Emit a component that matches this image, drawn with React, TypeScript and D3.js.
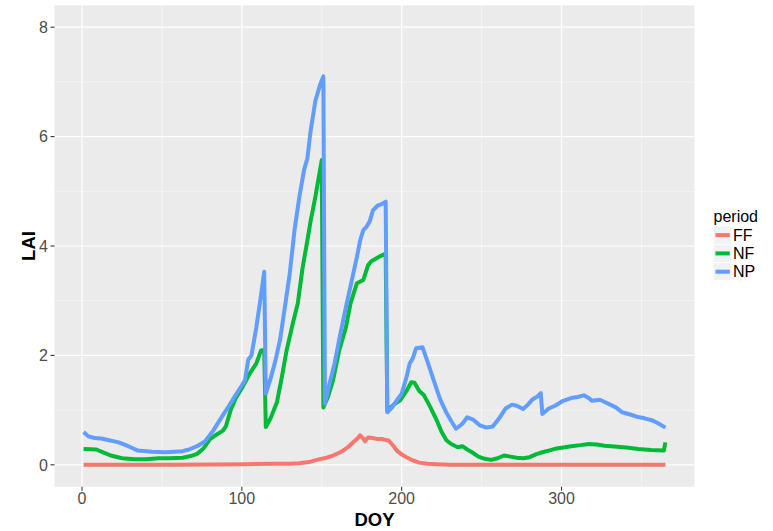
import React from "react";
import * as d3 from "d3";

// ---- data (DOY, LAI) ----
const FF: [number, number][] = [
  [1, 0], [60, 0], [100, 0.01], [120, 0.02], [130, 0.02], [136, 0.03], [142, 0.05], [148, 0.1],
  [153, 0.13], [157, 0.17], [161, 0.22], [164, 0.27], [167, 0.34], [170, 0.42], [173, 0.5],
  [174, 0.54], [176, 0.48], [177, 0.43], [179, 0.5], [182, 0.49], [185, 0.47], [188, 0.47],
  [192, 0.44], [195, 0.34], [197, 0.26], [200, 0.19], [203, 0.14], [207, 0.08], [211, 0.04],
  [216, 0.02], [222, 0.01], [230, 0], [365, 0],
];

const NF: [number, number][] = [
  [1, 0.29], [9, 0.28], [14, 0.22], [18, 0.17], [25, 0.12], [33, 0.1], [40, 0.1], [48, 0.12],
  [55, 0.12], [63, 0.13], [68, 0.16], [72, 0.2], [76, 0.3], [78, 0.38], [80, 0.47], [84, 0.55],
  [88, 0.62], [90, 0.7], [93, 1.0], [96, 1.21], [100, 1.4], [105, 1.67], [109, 1.85], [112, 2.09],
  [114, 2.1], [115, 0.69], [118, 0.85], [122, 1.15], [125, 1.6], [128, 2.09], [132, 2.6],
  [135, 2.95], [138, 3.6], [141, 4.1], [143, 4.45], [146, 4.9], [149, 5.4], [150, 5.57],
  [151, 1.05], [154, 1.25], [157, 1.54], [161, 2.1], [165, 2.5], [168, 2.95], [172, 3.32],
  [176, 3.38], [179, 3.65], [181, 3.72], [184, 3.77], [187, 3.82], [190, 3.86], [191, 0.99],
  [195, 1.1], [199, 1.18], [203, 1.35], [206, 1.51], [208, 1.5], [211, 1.35], [214, 1.27],
  [218, 1.05], [222, 0.81], [225, 0.6], [228, 0.45], [231, 0.38], [235, 0.32], [238, 0.34],
  [241, 0.28], [244, 0.23], [248, 0.15], [252, 0.11], [256, 0.09], [260, 0.12], [264, 0.17],
  [268, 0.15], [272, 0.13], [276, 0.12], [280, 0.14], [284, 0.19], [288, 0.23], [292, 0.26],
  [297, 0.3], [302, 0.32], [306, 0.34], [312, 0.36], [317, 0.38], [322, 0.37], [327, 0.35],
  [335, 0.33], [342, 0.31], [348, 0.29], [356, 0.27], [364, 0.26], [365, 0.41],
];

const NP: [number, number][] = [
  [1, 0.6], [4, 0.52], [8, 0.49], [12, 0.48], [17, 0.45], [23, 0.41], [29, 0.34], [35, 0.26],
  [44, 0.24], [52, 0.23], [58, 0.24], [63, 0.25], [67, 0.28], [72, 0.34], [77, 0.43], [82, 0.62],
  [88, 0.9], [92, 1.08], [96, 1.27], [100, 1.45], [102, 1.55], [104, 1.92], [106, 2.0],
  [109, 2.5], [112, 3.1], [114, 3.53], [115, 1.3], [118, 1.58], [121, 1.9], [124, 2.3],
  [127, 2.9], [130, 3.5], [133, 4.3], [136, 4.9], [139, 5.4], [141, 5.6], [143, 6.1],
  [146, 6.65], [149, 6.95], [151, 7.1], [152, 1.12], [155, 1.5], [158, 1.85], [162, 2.45],
  [166, 3.0], [169, 3.4], [172, 3.8], [174, 4.1], [176, 4.29], [178, 4.35], [180, 4.45],
  [182, 4.65], [185, 4.74], [187, 4.76], [190, 4.81], [191, 0.96], [194, 1.05], [197, 1.18],
  [200, 1.3], [203, 1.6], [205, 1.85], [207, 1.95], [209, 2.13], [213, 2.15], [216, 1.9],
  [220, 1.55], [224, 1.2], [228, 0.95], [231, 0.8], [234, 0.66], [238, 0.75], [241, 0.87],
  [245, 0.82], [249, 0.72], [253, 0.68], [257, 0.7], [261, 0.85], [265, 1.03], [269, 1.1],
  [272, 1.08], [276, 1.02], [279, 1.1], [282, 1.2], [285, 1.25], [287, 1.31], [288, 0.93],
  [292, 1.03], [296, 1.08], [301, 1.17], [306, 1.22], [310, 1.24], [314, 1.27], [317, 1.22],
  [319, 1.17], [324, 1.19], [329, 1.12], [334, 1.05], [338, 0.96], [343, 0.92], [347, 0.88],
  [352, 0.85], [357, 0.81], [361, 0.75], [365, 0.68],
];

const periods = ["FF", "NF", "NP"];
const seriesData = [FF, NF, NP];
const colors = ["#F8766D", "#00BA38", "#619CFF"];

const xMajor = [0, 100, 200, 300];
const xMinor = [50, 150, 250, 350];
const yMajor = [0, 2, 4, 6, 8];
const yMinor = [1, 3, 5, 7];

const W = 773;
const H = 531;
const FONT = "'Liberation Sans', Arial, sans-serif";

export default function App() {
  const panel = { left: 54.5, right: 694.5, top: 5.3, bottom: 486.7 };
  const x = d3.scaleLinear().domain([-17.2, 383.2]).range([panel.left, panel.right]);
  const y = d3.scaleLinear().domain([-0.4, 8.4]).range([panel.bottom, panel.top]);
  const line = d3
    .line<[number, number]>()
    .x((d) => x(d[0]))
    .y((d) => y(d[1]));

  return (
    <svg
      width={W}
      height={H}
      style={{ position: "absolute", left: 0, top: 0, background: "#fff" }}
      fontFamily={FONT}
    >
      <rect x={0} y={0} width={W} height={H} fill="#fff" />
      <rect
        x={panel.left}
        y={panel.top}
        width={panel.right - panel.left}
        height={panel.bottom - panel.top}
        fill="#EBEBEB"
      />
      {/* minor grid */}
      {xMinor.map((v) => (
        <line key={"xm" + v} x1={x(v)} x2={x(v)} y1={panel.top} y2={panel.bottom} stroke="#fff" strokeWidth={0.6} opacity={0.8} />
      ))}
      {yMinor.map((v) => (
        <line key={"ym" + v} x1={panel.left} x2={panel.right} y1={y(v)} y2={y(v)} stroke="#fff" strokeWidth={0.6} opacity={0.8} />
      ))}
      {/* major grid */}
      {xMajor.map((v) => (
        <line key={"xM" + v} x1={x(v)} x2={x(v)} y1={panel.top} y2={panel.bottom} stroke="#fff" strokeWidth={1.2} />
      ))}
      {yMajor.map((v) => (
        <line key={"yM" + v} x1={panel.left} x2={panel.right} y1={y(v)} y2={y(v)} stroke="#fff" strokeWidth={1.2} />
      ))}
      {/* series */}
      {seriesData.map((s, i) => (
        <path
          key={periods[i]}
          d={line(s) || ""}
          fill="none"
          stroke={colors[i]}
          strokeWidth={4}
          strokeLinejoin="round"
          strokeLinecap="butt"
        />
      ))}
      {/* axes ticks */}
      {yMajor.map((v) => (
        <g key={"yt" + v}>
          <line x1={panel.left - 4} x2={panel.left} y1={y(v)} y2={y(v)} stroke="#333" strokeWidth={1.1} />
          <text x={panel.left - 6.5} y={y(v)} dy="0.36em" textAnchor="end" fontSize={16} fill="#4D4D4D">
            {v}
          </text>
        </g>
      ))}
      {xMajor.map((v) => (
        <g key={"xt" + v}>
          <line x1={x(v)} x2={x(v)} y1={panel.bottom} y2={panel.bottom + 4} stroke="#333" strokeWidth={1.1} />
          <text x={x(v)} y={504} textAnchor="middle" fontSize={16} fill="#4D4D4D">
            {v}
          </text>
        </g>
      ))}
      {/* axis titles */}
      <text x={(panel.left + panel.right) / 2} y={526} textAnchor="middle" fontSize={18.5} fontWeight="bold" fill="#000">
        DOY
      </text>
      <text
        transform={`translate(34.5, ${(panel.top + panel.bottom) / 2}) rotate(-90)`}
        textAnchor="middle"
        fontSize={18.5}
        fontWeight="bold"
        fill="#000"
      >
        LAI
      </text>
      {/* legend */}
      <text x={713.5} y={221.5} fontSize={16} fill="#000">
        period
      </text>
      {periods.map((p, i) => {
        const cy = 235.1 + i * 18.3;
        return (
          <g key={"lg" + p}>
            <rect x={714} y={cy - 8.65} width={17.3} height={17.3} fill="#F2F2F2" />
            <line x1={715.5} x2={729.8} y1={cy} y2={cy} stroke={colors[i]} strokeWidth={4} />
            <text x={733} y={cy} dy="0.36em" fontSize={16} fill="#000">
              {p}
            </text>
          </g>
        );
      })}
    </svg>
  );
}
